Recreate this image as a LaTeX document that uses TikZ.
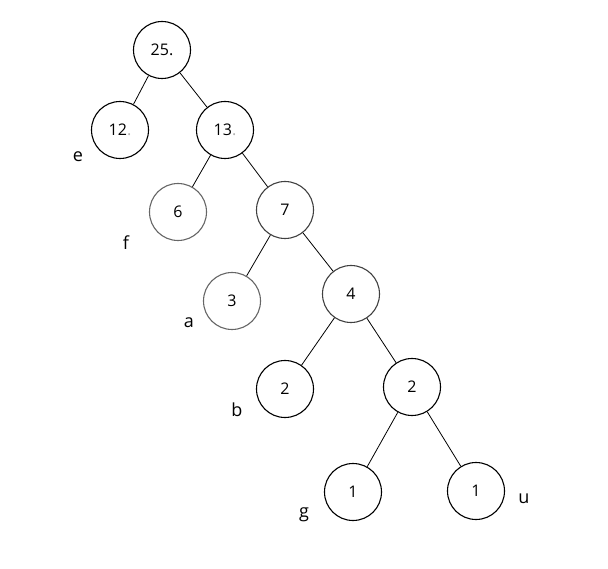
\documentclass[tikz,border=0pt]{standalone}
\usepackage{fontspec}
\setmainfont{Open Sans}
\usepackage{tikz}
\tikzstyle{weight} = [
    circle,
    minimum size=57pt,
    inner sep=0pt,
    line width=1.1pt,
    draw=black,
    font=\fontsize{16}{19}\selectfont
]
\tikzstyle{faded} = [
    weight,
    draw=black!60
]
\tikzstyle{letter} = [
    inner sep=0pt,
    font=\fontsize{18}{21}\selectfont
]
\tikzstyle{edge} = [line width=0.8pt]
\newcommand{\dotmark}{\textcolor{black!30}{.}}

\begin{document}
\begin{tikzpicture}[x=1pt, y=-1pt]

\useasboundingbox (0,0) rectangle (608,569);

\node (root) [weight] at (162,50) {25.};

\node (n12) [weight] at (120,130) {12\dotmark};
\node (n13) [weight] at (225,130) {13\dotmark};

\node (n6) [faded] at (178,212) {6};
\node (n7) [weight, draw=black!75] at (285,210) {7};

\node (n3) [faded] at (232,301) {3};
\node (n4) [weight, draw=black!75] at (351,294) {4};

\node (n2l) [weight] at (285,389) {2};
\node (n2r) [weight] at (412,387) {2};

\node (n1l) [weight] at (353,492) {1};
\node (n1r) [weight] at (476,491) {1};

% letters beside the leaves
\node (le) [letter] at (78,157) {e};
\node (lf) [letter] at (126,243) {f};
\node (la) [letter] at (189,323) {a};
\node (lb) [letter] at (237,410) {b};
\node (lg) [letter] at (304,515) {g};
\node (lu) [letter] at (524,499) {u};

\draw [edge] (root) -- (n12);
\draw [edge] (root) -- (n13);
\draw [edge] (n13) -- (n6);
\draw [edge] (n13) -- (n7);
\draw [edge] (n7) -- (n3);
\draw [edge] (n7) -- (n4);
\draw [edge] (n4) -- (n2l);
\draw [edge] (n4) -- (n2r);
\draw [edge] (n2r) -- (n1l);
\draw [edge] (n2r) -- (n1r);

\end{tikzpicture}
\end{document}
